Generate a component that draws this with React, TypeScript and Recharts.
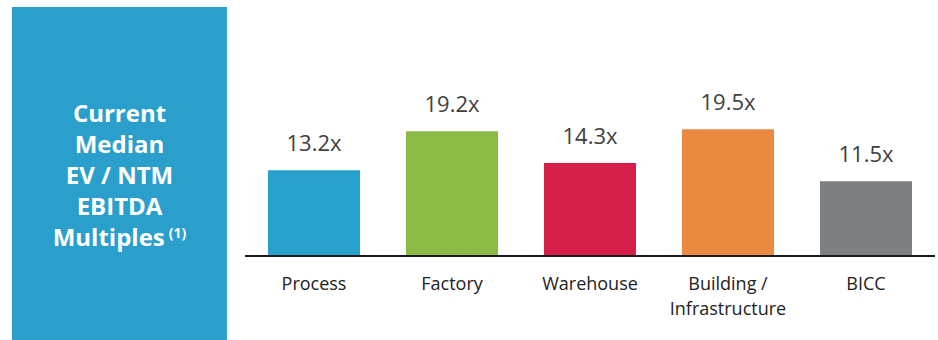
import React from 'react';
import { BarChart, Bar, XAxis, YAxis, Cell, LabelList } from 'recharts';

const categories = ['Process', 'Factory', 'Warehouse', 'Building / Infrastructure', 'BICC'];
const multiples = [13.2, 19.2, 14.3, 19.5, 11.5];
const barColors = ['#27A0CC', '#8DBA44', '#D51F4A', '#EA8A40', '#7D8083'];
const tickLines: Record<string, string[]> = {
  'Building / Infrastructure': ['Building /', 'Infrastructure'],
};
const panelLines = ['Current', 'Median', 'EV / NTM', 'EBITDA', 'Multiples'];

const data = categories.map((name, i) => ({ name, value: multiples[i] }));

const FONT = '"Open Sans", sans-serif';

// multi-line category label under the axis
const CategoryTick = (props: any) => {
  const { x, y, payload } = props;
  const lines = tickLines[payload.value] || [payload.value];
  return (
    <text x={x} y={y + 34} textAnchor="middle" fill="#222" fontSize={18} fontFamily={FONT}>
      {lines.map((l, i) => (
        <tspan key={i} x={x} dy={i === 0 ? 0 : 25}>
          {l}
        </tspan>
      ))}
    </text>
  );
};

export default function App() {
  return (
    <div style={{ position: 'absolute', left: 0, top: 0, width: 938, height: 340, background: '#fff', overflow: 'hidden' }}>
      {/* left title panel */}
      <div
        style={{
          position: 'absolute',
          left: 12,
          top: 7,
          width: 215,
          height: 340,
          background: '#2A9FCB',
          display: 'flex',
          flexDirection: 'column',
          justifyContent: 'center',
          alignItems: 'center',
          color: '#fff',
          fontFamily: FONT,
          fontWeight: 700,
          fontSize: 24,
          lineHeight: '31px',
          textAlign: 'center',
          paddingBottom: 6,
          boxSizing: 'border-box',
        }}
      >
        {panelLines.map((l, i) => (
          <div key={i}>
            {l}
            {i === panelLines.length - 1 && (
              <sup style={{ fontSize: 14, verticalAlign: 'top', position: 'relative', top: -4, marginLeft: 4 }}>(1)</sup>
            )}
          </div>
        ))}
      </div>

      <div style={{ position: 'absolute', left: 0, top: 0 }}>
        <BarChart
          width={938}
          height={340}
          data={data}
          margin={{ top: 93.5, right: 3, bottom: 24, left: 245 }}
          barCategoryGap={23}
        >
          <YAxis hide domain={[0, 25]} />
          <XAxis
            dataKey="name"
            height={60}
            axisLine={{ stroke: '#1a1a1a', strokeWidth: 2 }}
            tickLine={false}
            tickSize={0}
            tickMargin={0}
            interval={0}
            tick={<CategoryTick />}
          />
          <Bar dataKey="value" isAnimationActive={false}>
            {data.map((_, i) => (
              <Cell key={i} fill={barColors[i]} />
            ))}
            <LabelList
              dataKey="value"
              position="top"
              offset={19}
              formatter={(v: any) => `${Number(v).toFixed(1)}x`}
              fill="#404040"
              fontSize={22}
              fontFamily={FONT}
            />
          </Bar>
        </BarChart>
      </div>
    </div>
  );
}
